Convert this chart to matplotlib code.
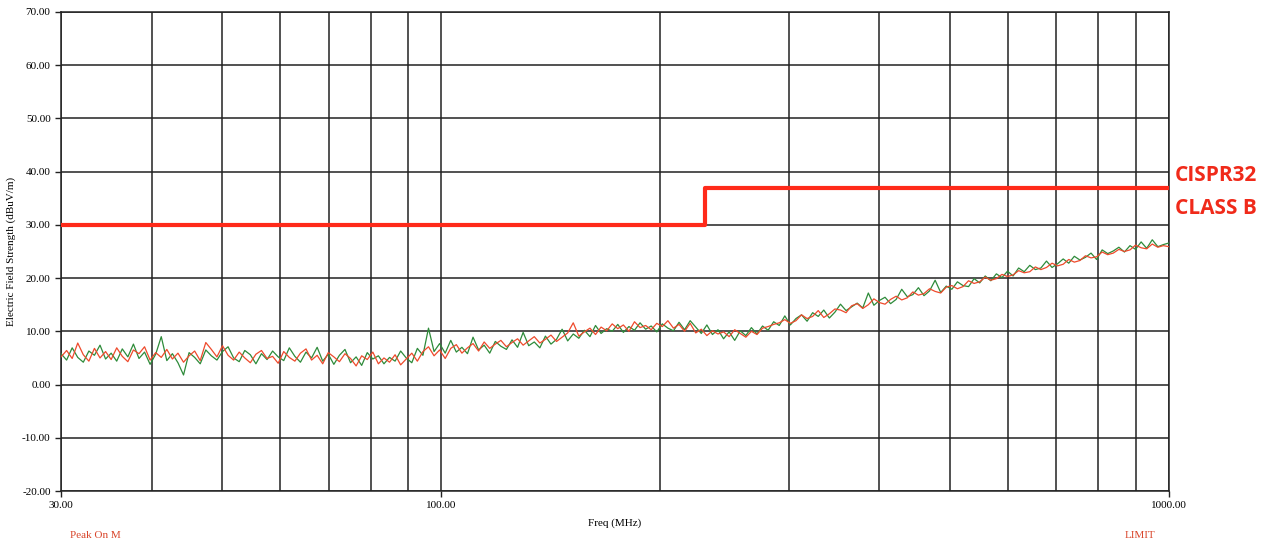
import matplotlib
matplotlib.use("Agg")
import matplotlib.pyplot as plt
import numpy as np

# scan traces, dBuV/m (log-spaced sweep points 30..1000 MHz)
green_trace = [
    5.8, 4.6, 6.9, 5.1, 4.2, 6.3, 5.5, 7.4, 4.8, 5.9,
    4.4, 6.7, 5.2, 7.6, 4.9, 6.1, 3.8, 5.7, 9.0, 4.5,
    5.8, 4.1, 1.8, 6.0, 5.1, 3.9, 6.5, 5.4, 4.6, 6.2,
    7.1, 5.0, 4.3, 6.4, 5.6, 3.9, 5.8, 4.7, 6.3, 5.2,
    4.5, 6.9, 5.3, 4.2, 6.1, 5.0, 7.0, 4.4, 5.7, 3.8,
    5.5, 6.6, 4.1, 5.2, 3.6, 6.0, 4.8, 5.4, 3.9, 5.1,
    4.4, 6.3, 5.0, 4.1, 6.8, 5.5, 10.6, 6.2, 7.7, 5.9,
    8.3, 6.1, 7.0, 5.8, 8.9, 6.5, 7.4, 5.9, 8.1, 7.2,
    6.6, 8.4, 7.0, 9.8, 7.3, 8.0, 6.9, 9.1, 7.6, 8.5,
    10.4, 8.2, 9.5, 8.7, 10.2, 9.0, 11.1, 9.6, 10.5, 10.0,
    11.3, 9.8, 10.9, 10.2, 11.6, 10.4, 11.0, 9.9, 11.4, 10.6,
    10.1, 11.7, 10.3, 12.0, 10.8, 9.6, 11.2, 9.4, 10.3, 8.6,
    9.9, 8.3, 10.1, 9.2, 10.7, 9.5, 11.0, 10.2, 11.8, 11.1,
    12.9, 11.2, 12.4, 13.1, 11.9, 13.5, 12.8, 14.0, 12.5, 13.6,
    15.1, 13.9, 14.6, 15.3, 14.4, 17.2, 14.9, 15.8, 16.4, 15.2,
    16.0, 17.9, 16.5, 16.9, 18.2, 16.7, 17.6, 19.6, 17.3, 18.5,
    17.9, 19.3, 18.6, 18.4, 19.9, 19.1, 20.4, 19.5, 20.8, 20.1,
    21.3, 20.4, 21.9, 21.2, 22.4, 21.6, 21.9, 23.2, 22.0, 22.7,
    23.6, 22.8, 24.1, 23.4, 23.9, 24.7, 23.5, 25.3, 24.6, 25.1,
    25.8, 24.9, 26.1, 25.4, 26.8, 25.6, 27.2, 25.9, 26.3, 26.6,
]
red_trace = [
    5.2, 6.4, 4.9, 7.8, 5.6, 4.4, 6.8, 5.0, 6.2, 4.7,
    6.9, 5.3, 4.3, 6.5, 5.8, 7.1, 4.6, 6.0, 5.1, 6.6,
    4.8, 5.9, 4.2, 5.4, 6.3, 4.5, 7.9, 6.6, 5.2, 7.3,
    5.5, 4.6, 6.1, 5.0, 4.1, 5.7, 6.4, 4.9, 5.3, 4.0,
    6.2, 5.1, 4.4, 5.9, 6.7, 4.6, 5.5, 3.9, 6.0, 5.2,
    4.3, 5.8, 4.9, 3.5, 5.4, 4.7, 6.1, 3.9, 5.0, 4.2,
    5.6, 3.7, 4.8, 5.9, 4.4, 6.2, 7.1, 5.4, 6.5, 4.9,
    6.8, 7.5, 5.9, 6.9, 7.7, 6.3, 8.0, 6.8, 7.6, 8.3,
    7.1, 7.9, 8.6, 7.4, 8.2, 9.0, 7.8, 8.5, 9.3, 8.1,
    8.9, 9.7, 11.6, 9.1, 9.9, 10.6, 9.4, 10.8, 10.1, 11.4,
    10.5, 11.2, 10.0, 11.8, 10.7, 11.1, 10.3, 11.5, 10.9, 12.0,
    10.6, 11.3, 10.0, 11.5, 9.7, 10.4, 9.2, 10.1, 9.5, 9.9,
    9.0, 10.3, 9.6, 8.9, 10.0, 9.4, 10.6, 10.9, 11.3, 11.6,
    12.2, 11.5, 12.0, 13.1, 12.4, 12.8, 13.9, 12.6, 13.3, 14.2,
    14.0, 13.5, 14.8, 15.2, 14.3, 15.0, 16.1, 15.4, 15.1, 16.0,
    16.6, 15.9, 16.3, 17.4, 16.8, 17.1, 18.0, 17.5, 17.2, 18.3,
    18.6, 18.0, 18.4, 19.5, 19.0, 19.3, 20.2, 19.6, 19.9, 20.7,
    20.3, 20.6, 21.4, 21.0, 21.2, 22.1, 21.6, 22.0, 22.8, 22.3,
    22.6, 23.5, 23.0, 23.3, 24.2, 23.8, 24.0, 24.9, 24.4, 24.7,
    25.4, 25.0, 25.3, 26.2, 25.7, 25.5, 26.4, 25.8, 26.1, 25.9,
]
freq_start, freq_stop = 30.0, 1000.0

# CISPR32 class B limit
lim_freq = [30, 230, 230, 1000]
lim_level = [30, 30, 37, 37]

y_ticks = [-20, -10, 0, 10, 20, 30, 40, 50, 60, 70]
x_major = [30, 100, 1000]
x_minor = [40, 50, 60, 70, 80, 90, 200, 300, 400, 500, 600, 700, 800, 900]

freq = np.geomspace(freq_start, freq_stop, len(green_trace))

serif = "Liberation Serif"
fig = plt.figure(figsize=(12.77, 5.44), dpi=100)
ax = fig.add_axes([0.0478, 0.0974, 0.8676, 0.8806])

ax.plot(freq, green_trace, color="#2e8b3a", lw=0.9, zorder=3)
ax.plot(freq, red_trace, color="#ee4a2c", lw=0.9, zorder=4)
ax.plot(lim_freq, lim_level, color="#ff2a1a", lw=3, zorder=5)

ax.set_xscale("log")
ax.set_xlim(freq_start, freq_stop)
ax.set_ylim(-20, 70)
ax.set_yticks(y_ticks)
ax.set_yticklabels(["%.2f" % v for v in y_ticks], family=serif, fontsize=8)
ax.set_xticks(x_major)
ax.set_xticks(x_minor, minor=True)
ax.set_xticklabels(["%.2f" % v for v in x_major], family=serif, fontsize=8)
ax.tick_params(axis="x", which="minor", length=0, labelbottom=False)
ax.tick_params(axis="both", which="major", length=4, color="#222222", width=1)
ax.grid(True, which="both", color="#222222", lw=1.1)
for s in ax.spines.values():
    s.set_color("#222222")
    s.set_linewidth(1.1)

ax.set_xlabel("Freq (MHz)", family=serif, fontsize=8, labelpad=6)
ax.set_ylabel("Electric Field Strength (dBuV/m)", family=serif, fontsize=8, labelpad=4)

fig.text(70 / 1277, 1 - 536 / 544, "Peak On M", family=serif, fontsize=8,
         color="#d9452a", va="center", ha="left")
fig.text(1155 / 1277, 1 - 536 / 544, "LIMIT", family=serif, fontsize=8,
         color="#d9452a", va="center", ha="right")
fig.text(1175 / 1277, 1 - 175 / 544, "CISPR32", family="Open Sans", weight="bold",
         fontsize=15, color="#f02a1a", va="center", ha="left")
fig.text(1175 / 1277, 1 - 208 / 544, "CLASS B", family="Open Sans", weight="bold",
         fontsize=15, color="#f02a1a", va="center", ha="left")

fig.savefig("out.png", dpi=100)
